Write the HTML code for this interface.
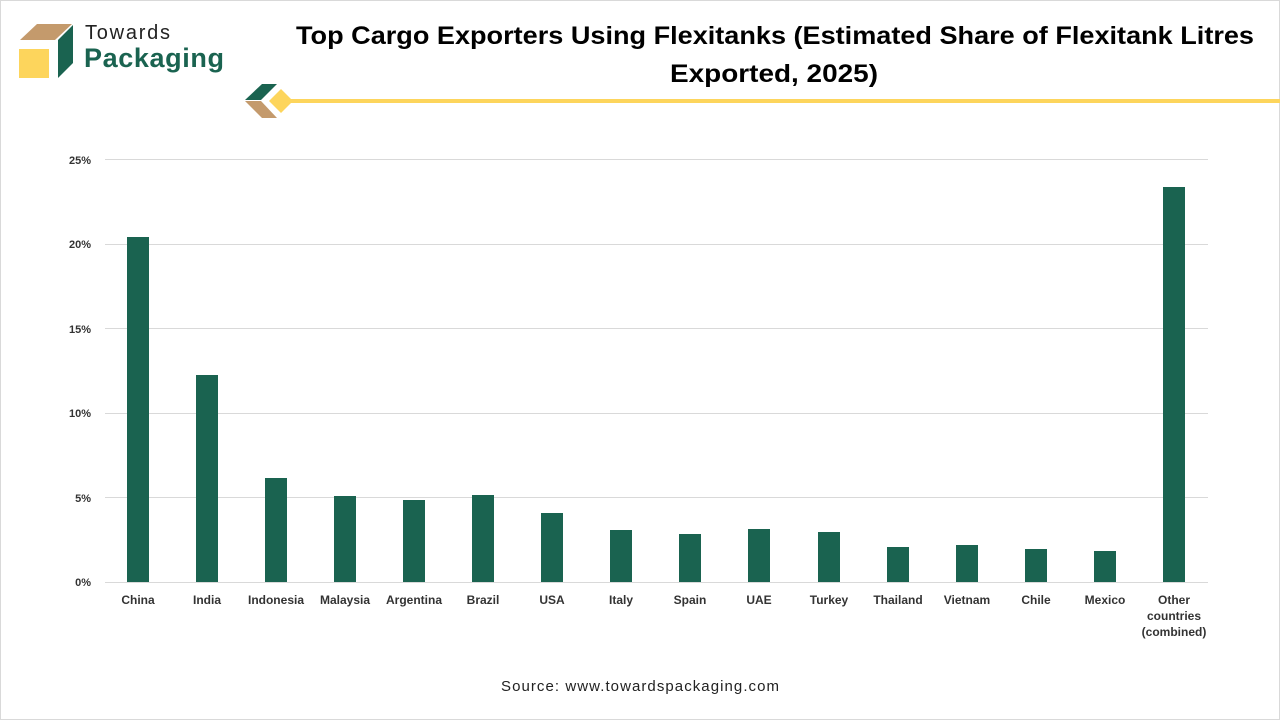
<!DOCTYPE html>
<html><head><meta charset="utf-8"><style>
body{margin:0;width:1280px;height:720px;background:#fff;overflow:hidden;font-family:"Liberation Sans",sans-serif}
.frame{position:absolute;left:0;top:0;width:1278px;height:718px;border:1px solid #d9d9d9}
</style></head><body>
<div class="frame"></div>
<svg width="1280" height="720" style="position:absolute;left:0;top:0">
<polygon points="20,40 37,24 72,24 55,40" fill="#c49a6c"/>
<rect x="19" y="49" width="30" height="29" fill="#fdd55c"/>
<polygon points="58,40 73,25 73,63 58,78" fill="#1a6350"/>
<text x="85" y="39" font-size="20" fill="#222" textLength="85">Towards</text>
<text x="84" y="67" font-size="27" font-weight="bold" fill="#1a6350" textLength="140">Packaging</text>
<text x="775" y="44" font-size="25" font-weight="bold" text-anchor="middle" fill="#000" textLength="958" lengthAdjust="spacingAndGlyphs">Top Cargo Exporters Using Flexitanks (Estimated Share of Flexitank Litres</text>
<text x="774" y="82" font-size="25" font-weight="bold" text-anchor="middle" fill="#000" textLength="208" lengthAdjust="spacingAndGlyphs">Exported, 2025)</text>
<polygon points="245,100 262,84 277,84 261,100" fill="#1a6350"/>
<polygon points="245,101 261,101 277,118 262,118" fill="#c49a6c"/>
<polygon points="281,89 293,101 281,113 269,101" fill="#fdd55c"/>
<rect x="290" y="99" width="990" height="4" fill="#fdd55c"/>
<g stroke="#d9d9d9" stroke-width="1">
<line x1="105" x2="1208" y1="159.5" y2="159.5"/><line x1="105" x2="1208" y1="244.5" y2="244.5"/>
<line x1="105" x2="1208" y1="328.5" y2="328.5"/><line x1="105" x2="1208" y1="413.5" y2="413.5"/>
<line x1="105" x2="1208" y1="497.5" y2="497.5"/><line x1="105" x2="1208" y1="582.5" y2="582.5"/>
</g>
<g font-size="11" font-weight="bold" fill="#333" text-anchor="end">
<text x="91" y="164">25%</text><text x="91" y="248">20%</text><text x="91" y="333">15%</text>
<text x="91" y="417">10%</text><text x="91" y="502">5%</text><text x="91" y="586">0%</text>
</g>
<g fill="#1a6350">
<rect x="127" y="237" width="22" height="345"/>
<rect x="196" y="375" width="22" height="207"/>
<rect x="265" y="478" width="22" height="104"/>
<rect x="334" y="496" width="22" height="86"/>
<rect x="403" y="500" width="22" height="82"/>
<rect x="472" y="495" width="22" height="87"/>
<rect x="541" y="513" width="22" height="69"/>
<rect x="610" y="530" width="22" height="52"/>
<rect x="679" y="534" width="22" height="48"/>
<rect x="748" y="529" width="22" height="53"/>
<rect x="818" y="532" width="22" height="50"/>
<rect x="887" y="547" width="22" height="35"/>
<rect x="956" y="545" width="22" height="37"/>
<rect x="1025" y="549" width="22" height="33"/>
<rect x="1094" y="551" width="22" height="31"/>
<rect x="1163" y="187" width="22" height="395"/>
</g>
<g font-size="12" font-weight="bold" fill="#333" text-anchor="middle">
<text x="138" y="604">China</text><text x="207" y="604">India</text><text x="276" y="604">Indonesia</text>
<text x="345" y="604">Malaysia</text><text x="414" y="604">Argentina</text><text x="483" y="604">Brazil</text>
<text x="552" y="604">USA</text><text x="621" y="604">Italy</text><text x="690" y="604">Spain</text>
<text x="759" y="604">UAE</text><text x="829" y="604">Turkey</text><text x="898" y="604">Thailand</text>
<text x="967" y="604">Vietnam</text><text x="1036" y="604">Chile</text><text x="1105" y="604">Mexico</text>
<text x="1174" y="604">Other</text><text x="1174" y="620">countries</text><text x="1174" y="636">(combined)</text>
</g>
<text x="640" y="691" font-size="15" text-anchor="middle" fill="#222" textLength="278">Source: www.towardspackaging.com</text>
</svg>
</body></html>
